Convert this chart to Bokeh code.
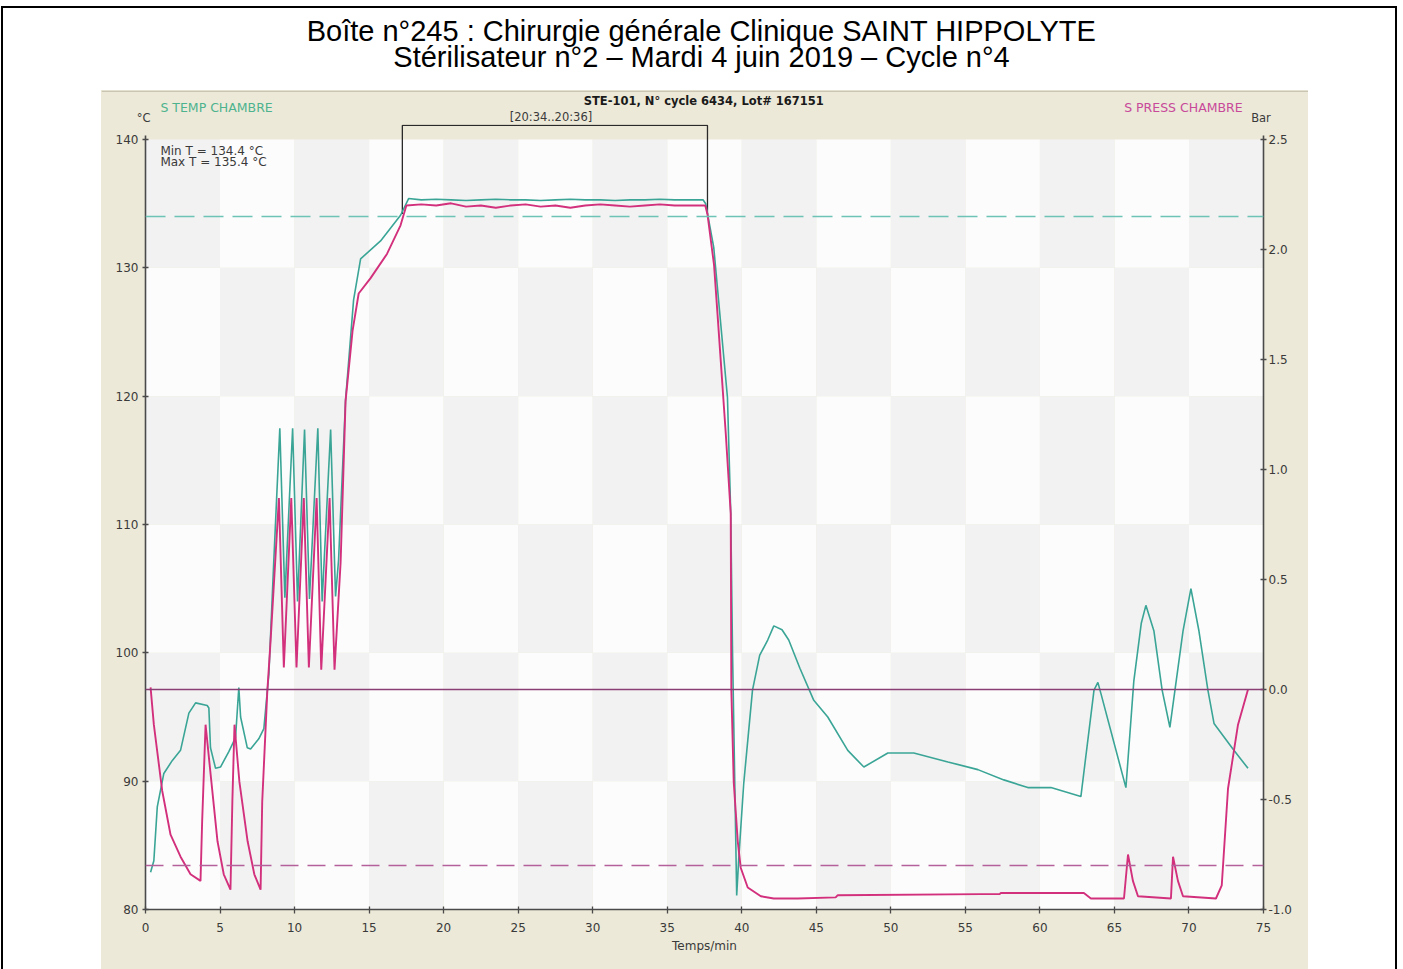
import numpy as np
from bokeh.plotting import figure
from bokeh.models import (Range1d, LinearAxis, Label, Span, FixedTicker,
                          PrintfTickFormatter, Spacer)
from bokeh.layouts import column, row
from bokeh.embed import file_html
from bokeh.resources import INLINE

# ---------------- texts ----------------
TITLE_1 = "Boîte n°245 : Chirurgie générale Clinique SAINT HIPPOLYTE"
TITLE_2 = "Stérilisateur n°2 – Mardi 4 juin 2019 – Cycle n°4"
HEADER = "STE-101, N° cycle 6434, Lot# 167151"
TEMP_NAME = "S TEMP CHAMBRE"
PRESS_NAME = "S PRESS CHAMBRE"
TEMP_UNIT = "°C"
PRESS_UNIT = "Bar"
X_LABEL = "Temps/min"
WINDOW_LABEL = "[20:34..20:36]"
MIN_T_TEXT = "Min T = 134.4 °C"
MAX_T_TEXT = "Max T = 135.4 °C"

# ---------------- ticks ----------------
x_ticks = [0, 5, 10, 15, 20, 25, 30, 35, 40, 45, 50, 55, 60, 65, 70, 75]
temp_ticks = [80, 90, 100, 110, 120, 130, 140]
press_ticks = [-1.0, -0.5, 0.0, 0.5, 1.0, 1.5, 2.0, 2.5]

# ---------------- reference lines / plateau ----------------
temp_threshold = 134.0
press_threshold = -0.8
press_reference = 0.0
plateau_start = 17.23
plateau_end = 37.7
plateau_low = 134.2

# ---------------- temperature (°C) ----------------
temp_time_prevac = [0.34, 0.56, 0.79, 1.23, 1.79, 2.35, 2.91, 3.36, 4.14, 4.25,
                    4.36, 4.70, 5.03, 5.59, 6.04, 6.26, 6.38, 6.83, 7.05, 7.60,
                    7.94, 8.28]
temp_value_prevac = [82.9, 83.8, 88.0, 90.6, 91.6, 92.4, 95.3, 96.1, 95.9, 95.7,
                     92.6, 91.0, 91.1, 92.3, 93.4, 97.3, 95.0, 92.6, 92.5, 93.3,
                     94.1, 98.4]
temp_time_pulses = [8.60, 9.01, 9.35, 9.87, 10.20, 10.67, 11.00, 11.56, 11.85,
                    12.42, 12.75, 12.95]
temp_value_pulses = [107.0, 117.5, 104.3, 117.5, 104.0, 117.4, 104.2, 117.5, 104.0,
                     117.4, 104.4, 107.2]
temp_time_plateau = [13.42, 13.96, 14.43, 15.77, 17.11, 17.65, 18.5, 19.5, 20.5,
                     21.5, 22.5, 23.5, 24.5, 25.5, 26.5, 27.5, 28.5, 29.5, 30.5,
                     31.5, 32.5, 33.5, 34.5, 35.5, 36.5, 37.4]
temp_value_plateau = [119.7, 127.5, 130.7, 132.1, 134.1, 135.4, 135.3, 135.35, 135.3,
                      135.25, 135.3, 135.35, 135.3, 135.3, 135.25, 135.3, 135.35, 135.3,
                      135.3, 135.25, 135.3, 135.3, 135.35, 135.3, 135.3, 135.3]
temp_time_drying = [37.58, 38.12, 39.04, 39.26, 39.38, 39.66, 39.80, 40.13, 40.72,
                    41.20, 41.74, 42.15, 42.70, 43.15, 43.90, 44.83, 45.77, 47.11,
                    48.19, 49.80, 51.54, 53.83, 55.84, 57.58, 59.19, 60.74, 62.75,
                    63.63, 63.89, 64.10, 65.77, 66.30, 66.80, 67.11, 67.65, 68.20,
                    68.72, 69.60, 70.13, 70.67, 71.27, 71.68, 72.95, 73.96]
temp_value_drying = [135.0, 131.6, 119.9, 110.9, 100.1, 81.1, 84.0, 89.8, 97.1,
                     99.8, 101.0, 102.1, 101.8, 101.0, 98.8, 96.3, 95.0, 92.4,
                     91.1, 92.2, 92.2, 91.5, 90.9, 90.1, 89.5, 89.5, 88.8,
                     97.1, 97.7, 96.8, 89.5, 97.8, 102.3, 103.7, 101.7, 97.1,
                     94.2, 101.7, 105.0, 101.7, 97.1, 94.5, 92.5, 91.0]

# ---------------- pressure (bar) ----------------
press_time_prevac = [0.34, 0.56, 1.12, 1.68, 2.35, 3.02, 3.69, 3.80, 4.03, 4.36,
                     4.83, 5.25, 5.70, 5.83, 5.97, 6.30, 6.85, 7.30, 7.72, 7.83,
                     8.17, 8.39]
press_value_prevac = [0.01, -0.16, -0.46, -0.66, -0.76, -0.84, -0.87, -0.60, -0.16, -0.38,
                      -0.69, -0.84, -0.91, -0.50, -0.16, -0.42, -0.69, -0.84, -0.91, -0.51,
                      -0.01, 0.22]
press_time_pulses = [8.95, 9.28, 9.78, 10.13, 10.62, 10.96, 11.48, 11.79, 12.35,
                     12.68, 13.09]
press_value_pulses = [0.87, 0.10, 0.87, 0.10, 0.87, 0.10, 0.87, 0.09, 0.87, 0.09, 0.58]
press_time_plateau = [13.42, 13.89, 14.30, 15.10, 16.20, 17.11, 17.50, 18.5, 19.5,
                      20.5, 21.5, 22.5, 23.5, 24.5, 25.5, 26.5, 27.5, 28.5, 29.5,
                      30.5, 31.5, 32.5, 33.5, 34.5, 35.5, 36.5, 37.55]
press_value_plateau = [1.31, 1.63, 1.80, 1.87, 1.98, 2.11, 2.20, 2.205, 2.20, 2.21,
                       2.195, 2.20, 2.19, 2.20, 2.205, 2.195, 2.20, 2.19, 2.20, 2.205,
                       2.20, 2.195, 2.20, 2.205, 2.20, 2.20, 2.20]
press_time_drying = [37.70, 38.14, 38.37, 38.93, 39.26, 39.30, 39.46, 39.73, 39.93,
                     40.40, 41.28, 42.15, 43.76, 46.30, 46.44, 56.04, 57.30, 57.38,
                     62.95, 63.42, 65.64, 65.91, 66.24, 66.58, 68.79, 68.93, 69.26,
                     69.60, 71.81, 72.20, 72.62, 73.29, 73.96]
press_value_drying = [2.16, 1.93, 1.71, 1.16, 0.80, 0.0, -0.42, -0.69, -0.81,
                      -0.90, -0.94, -0.95, -0.95, -0.945, -0.935, -0.93, -0.93, -0.925,
                      -0.925, -0.95, -0.95, -0.75, -0.87, -0.94, -0.95, -0.76, -0.87,
                      -0.94, -0.95, -0.89, -0.45, -0.16, 0.0]

temp_time = temp_time_prevac + temp_time_pulses + temp_time_plateau + temp_time_drying
temp_value = temp_value_prevac + temp_value_pulses + temp_value_plateau + temp_value_drying
press_time = press_time_prevac + press_time_pulses + press_time_plateau + press_time_drying
press_value = press_value_prevac + press_value_pulses + press_value_plateau + press_value_drying

# ---------------- style / layout ----------------
BEIGE = "#ECE9D8"
CELL_LIGHT = "#FCFCFC"
CELL_GRAY = "#F2F2F2"
TEAL = "#3AA596"
PINK = "#D2307C"
AXIS_COL = "#4A4A4A"
TEXT_COL = "#3A3A3A"
FONT = "DejaVu Sans"

CHART_W = 1207          # beige chart panel width
BORDER_L, BORDER_R = 44, 45
FRAME_W = CHART_W - BORDER_L - BORDER_R
FRAME_H = 785
MAIN_H = 845
STRIP_H = 34
HEAD_H = 82

TEMP_LO, TEMP_HI = temp_ticks[0], temp_ticks[-1]
PRESS_LO, PRESS_HI = press_ticks[0], press_ticks[-1]
TOP_PAD = 1.17  # °C headroom above the top tick (the window box sits there)
TEMP_TOP = TEMP_HI + TOP_PAD
PRESS_TOP = PRESS_LO + (PRESS_HI - PRESS_LO) * (TEMP_TOP - TEMP_LO) / (TEMP_HI - TEMP_LO)
WINDOW_TOP = TEMP_HI + 1.1

X_LO, X_HI = x_ticks[0], x_ticks[-1]
PX_PER_MIN = FRAME_W / (X_HI - X_LO)


def no_align(fig):
    if "frame_align" in fig.properties():
        fig.frame_align = False


# ---------------- main chart ----------------
p = figure(width=CHART_W, height=MAIN_H,
           x_range=Range1d(X_LO, X_HI),
           y_range=Range1d(TEMP_LO, TEMP_TOP),
           output_backend="svg", toolbar_location=None,
           min_border_left=BORDER_L, min_border_right=BORDER_R,
           min_border_top=0, min_border_bottom=MAIN_H - FRAME_H,
           border_fill_color=BEIGE, background_fill_color=BEIGE,
           outline_line_color=None)
p.extra_y_ranges = {"press": Range1d(PRESS_LO, PRESS_TOP)}
p.grid.visible = False
no_align(p)

# checkerboard background from the tick grid
xs = np.array(x_ticks, dtype=float)
ys = np.array(temp_ticks, dtype=float)
L, B = np.meshgrid(xs[:-1], ys[:-1])
R, T = np.meshgrid(xs[1:], ys[1:])
I, J = np.meshgrid(np.arange(len(xs) - 1), np.arange(len(ys) - 1))
odd = ((I + J) % 2 == 1).ravel()
L, B, R, T = L.ravel(), B.ravel(), R.ravel(), T.ravel()
p.quad(left=L[~odd], right=R[~odd], bottom=B[~odd], top=T[~odd],
       fill_color=CELL_LIGHT, line_color=None)
p.quad(left=L[odd], right=R[odd], bottom=B[odd], top=T[odd],
       fill_color=CELL_GRAY, line_color=None)


def style_axis(ax):
    ax.axis_line_color = AXIS_COL
    ax.axis_line_width = 1.6
    ax.major_tick_line_color = AXIS_COL
    ax.major_tick_line_width = 1.3
    ax.minor_tick_line_color = None
    ax.major_tick_in = 3
    ax.major_tick_out = 3
    ax.major_label_text_font = FONT
    ax.major_label_text_font_size = "12px"
    ax.major_label_text_color = TEXT_COL


xa = p.xaxis[0]
xa.ticker = FixedTicker(ticks=x_ticks)
xa.bounds = (X_LO, X_HI)
style_axis(xa)
xa.major_tick_out = 4
xa.major_label_standoff = 9
xa.axis_label = X_LABEL
xa.axis_label_text_font = FONT
xa.axis_label_text_font_size = "12px"
xa.axis_label_text_font_style = "normal"
xa.axis_label_text_color = TEXT_COL
xa.axis_label_standoff = 4

ya = p.yaxis[0]
ya.ticker = FixedTicker(ticks=temp_ticks)
ya.bounds = (TEMP_LO, TEMP_HI + 0.3)
style_axis(ya)
ya.major_label_standoff = 4

ra = LinearAxis(y_range_name="press", ticker=FixedTicker(ticks=press_ticks),
                formatter=PrintfTickFormatter(format="%.1f"))
ra.bounds = (PRESS_LO, PRESS_HI + 0.02)
style_axis(ra)
ra.major_label_standoff = 2
p.add_layout(ra, "right")

# plateau window box
p.line([plateau_start, plateau_start, plateau_end, plateau_end],
       [plateau_low, WINDOW_TOP, WINDOW_TOP, plateau_low],
       line_color="#2A2A2A", line_width=1.3)

# reference lines
p.add_layout(Span(location=temp_threshold, dimension="width", line_color="#6CC3B6",
                  line_width=1.6, line_dash="20 9"))
p.add_layout(Span(location=press_reference, dimension="width", y_range_name="press",
                  line_color="#8A3F74", line_width=1.5))
p.add_layout(Span(location=press_threshold, dimension="width", y_range_name="press",
                  line_color="#B4609A", line_width=1.5, line_dash="18 9"))

# curves
p.line(temp_time, temp_value, line_color=TEAL, line_width=1.6)
p.line(press_time, press_value, y_range_name="press", line_color=PINK, line_width=1.9)

# min / max texts inside the chart
for yv, txt in ((139.14, MIN_T_TEXT), (138.23, MAX_T_TEXT)):
    p.add_layout(Label(x=1.0, y=yv, text=txt, text_align="left", text_baseline="middle",
                       text_font=FONT, text_font_size="12px", text_color=TEXT_COL))

# ---------------- strip above the chart (header, series names, units) ----------------
strip = figure(width=CHART_W, height=STRIP_H,
               x_range=Range1d(X_LO - BORDER_L / PX_PER_MIN, X_HI + BORDER_R / PX_PER_MIN),
               y_range=Range1d(STRIP_H, 0),
               output_backend="svg", toolbar_location=None,
               x_axis_location=None, y_axis_location=None, min_border=0,
               outline_line_color=None, background_fill_color=BEIGE,
               border_fill_color=BEIGE)
strip.grid.visible = False
no_align(strip)
strip.add_layout(Span(location=0.8, dimension="width", line_color="#C9C5B2", line_width=1.6))


def slab(x, y, text, align="left", color=TEXT_COL, size="12px", style="normal"):
    strip.add_layout(Label(x=x, y=y, text=text, text_align=align, text_baseline="middle",
                           text_font=FONT, text_font_size=size, text_color=color,
                           text_font_style=style))


slab(37.45, 10.5, HEADER, align="center", color="#1A1A1A", size="11.5px", style="bold")
slab(1.0, 16.7, TEMP_NAME, color="#4DB38E", size="12.5px")
slab(73.6, 16.7, PRESS_NAME, align="right", color="#C8489A", size="12.5px")
slab(27.2, 26.0, WINDOW_LABEL, align="center", size="11.5px")
slab(-0.13, 27.3, TEMP_UNIT, align="center", size="11.5px")
slab(74.83, 27.3, PRESS_UNIT, align="center", size="11.5px")

# ---------------- page header with the two title lines ----------------
head = figure(width=1392, height=HEAD_H, x_range=Range1d(0, 1392), y_range=Range1d(HEAD_H, 0),
              output_backend="svg", toolbar_location=None,
              x_axis_location=None, y_axis_location=None, min_border=0,
              outline_line_color=None, background_fill_color="white",
              border_fill_color="white")
head.grid.visible = False
no_align(head)
for yv, txt in ((22, TITLE_1), (48, TITLE_2)):
    head.add_layout(Label(x=698, y=yv, text=txt, text_align="center",
                          text_baseline="middle", text_font="Liberation Sans",
                          text_font_size="29px", text_color="#000000"))

chart_panel = column(strip, p, styles={"background-color": BEIGE})
layout = column(head,
                row(Spacer(width=98, height=STRIP_H + MAIN_H), chart_panel),
                styles={"border": "2px solid #000000", "border-bottom": "none",
                        "margin-left": "1px", "margin-top": "6px",
                        "background-color": "white"})

open("out.html", "w").write(file_html(layout, INLINE))
